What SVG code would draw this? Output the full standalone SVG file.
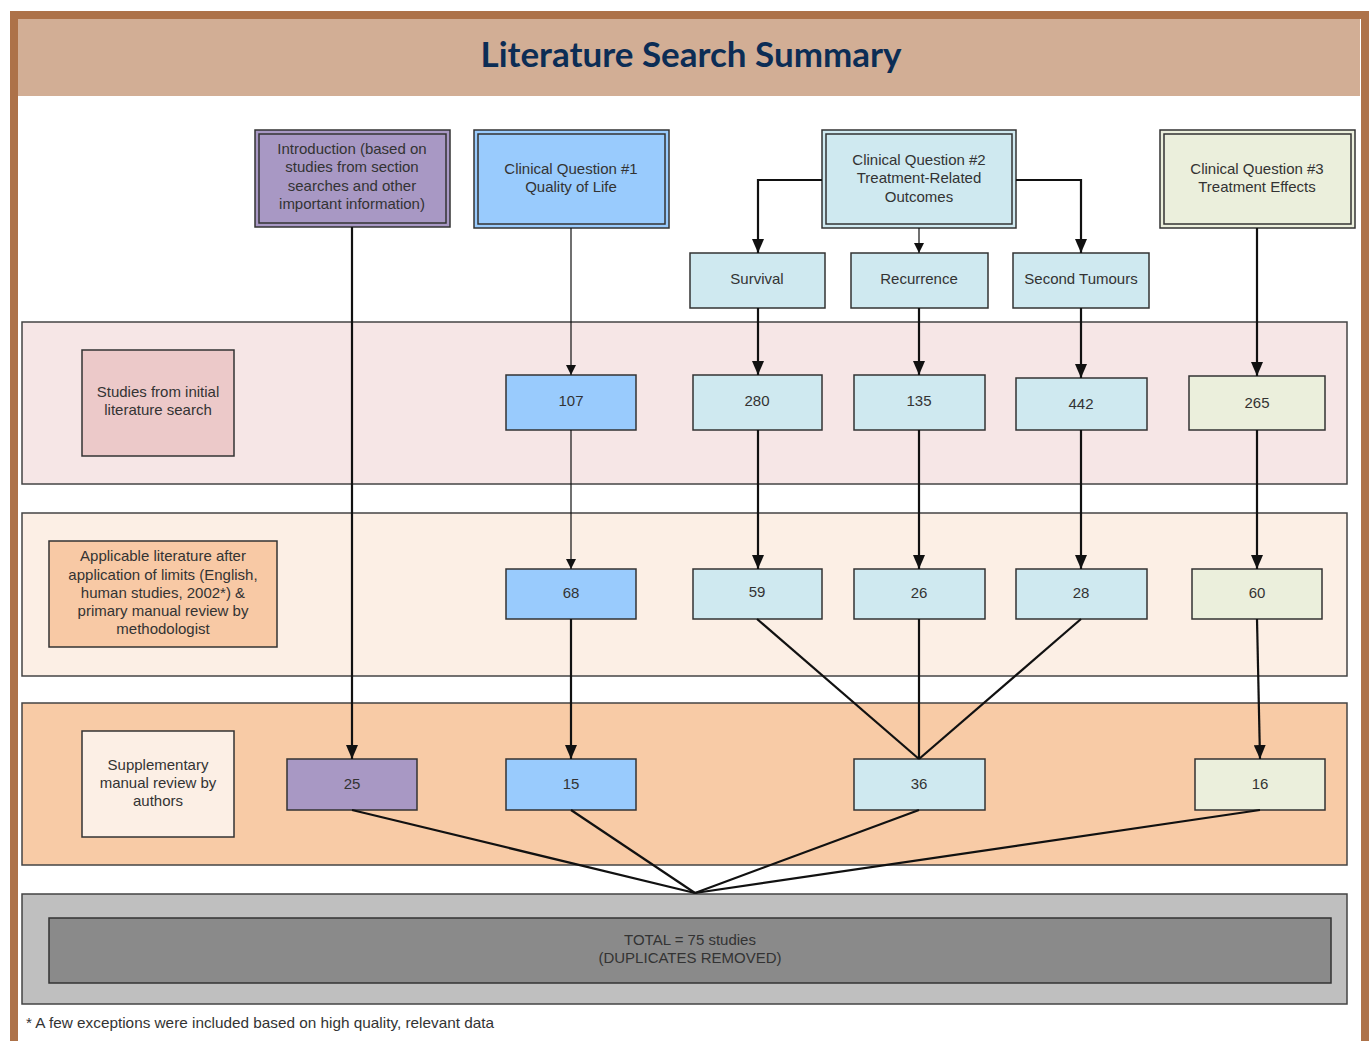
<svg xmlns="http://www.w3.org/2000/svg" width="1369" height="1041" viewBox="0 0 1369 1041">
<style>
text{font-family:"Liberation Sans",Arial,sans-serif;font-size:15px;fill:#333;text-anchor:middle}
.title{font-family:Lato,"Open Sans",sans-serif;font-weight:bold;font-size:34px;fill:#0c2d55}
.foot{font-size:15px;text-anchor:start}
.box{stroke:#333;stroke-width:1.5}
.band{stroke:#444;stroke-width:1.5}
.thick{fill:none;stroke:#111;stroke-width:2.2}
.thin{fill:none;stroke:#111;stroke-width:1.2}
.purple{fill:#a898c4}.blue{fill:#99cbfd}.cyan{fill:#cfe9f0}.green{fill:#ebefdc}
</style>
<defs>
<marker id="ah" viewBox="0 0 14 12" markerWidth="14" markerHeight="12" refX="14" refY="6" orient="auto" markerUnits="userSpaceOnUse"><path d="M0,0 L14,6 L0,12 z" fill="#111"/></marker>
<marker id="as" viewBox="0 0 10 10" markerWidth="10" markerHeight="10" refX="10" refY="5" orient="auto" markerUnits="userSpaceOnUse"><path d="M0,0 L10,5 L0,10 z" fill="#111"/></marker>
</defs>
<rect x="14" y="15" width="1351" height="1040" fill="#fff" stroke="#ad7249" stroke-width="8"/>
<rect x="18" y="19" width="1342" height="77" fill="#d2ae95"/>
<text class="title" x="691" y="67" textLength="421" lengthAdjust="spacingAndGlyphs">Literature Search Summary</text>

<g id="bands">
<rect id="band-initial" class="band" x="22" y="322" width="1325" height="162" fill="#f6e6e6"/>
<rect id="band-applicable" class="band" x="22" y="513" width="1325" height="163" fill="#fcefe5"/>
<rect id="band-supplementary" class="band" x="22" y="703" width="1325" height="162" fill="#f8cba6"/>
<rect id="band-total" class="band" x="22" y="894" width="1325" height="110" fill="#bfbfbf"/>
</g>

<g id="label-initial"><rect class="box" x="82" y="350" width="152" height="106" fill="#ecc9c9"/><text x="158" y="397">Studies from initial</text><text x="158" y="415">literature search</text></g>
<g id="label-applicable"><rect class="box" x="49" y="541" width="228" height="106" fill="#f8c9a5"/><text x="163" y="561">Applicable literature after</text><text x="163" y="580">application of limits (English,</text><text x="163" y="598">human studies, 2002*) &amp;</text><text x="163" y="616">primary manual review by</text><text x="163" y="634">methodologist</text></g>
<g id="label-supplementary"><rect class="box" x="82" y="731" width="152" height="106" fill="#fcefe5"/><text x="158" y="770">Supplementary</text><text x="158" y="788">manual review by</text><text x="158" y="806">authors</text></g>

<g id="intro"><rect class="box purple" x="255" y="130" width="195" height="97"/><rect class="box purple" x="259" y="134" width="187" height="89"/><text x="352" y="154">Introduction (based on</text><text x="352" y="172">studies from section</text><text x="352" y="191">searches and other</text><text x="352" y="209">important information)</text></g>
<g id="cq1"><rect class="box blue" x="474" y="130" width="195" height="98"/><rect class="box blue" x="478" y="134" width="187" height="90"/><text x="571" y="174">Clinical Question #1</text><text x="571" y="192">Quality of Life</text></g>
<g id="cq2"><rect class="box cyan" x="822" y="130" width="194" height="98"/><rect class="box cyan" x="826" y="134" width="186" height="90"/><text x="919" y="165">Clinical Question #2</text><text x="919" y="183">Treatment-Related</text><text x="919" y="202">Outcomes</text></g>
<g id="cq3"><rect class="box green" x="1160" y="130" width="195" height="98"/><rect class="box green" x="1164" y="134" width="187" height="90"/><text x="1257" y="174">Clinical Question #3</text><text x="1257" y="192">Treatment Effects</text></g>

<g id="survival"><rect class="box cyan" x="690" y="253" width="135" height="55"/><text x="757" y="284">Survival</text></g>
<g id="recurrence"><rect class="box cyan" x="851" y="253" width="137" height="55"/><text x="919" y="284">Recurrence</text></g>
<g id="second-tumours"><rect class="box cyan" x="1013" y="253" width="136" height="55"/><text x="1081" y="284">Second Tumours</text></g>

<g id="n107"><rect class="box blue" x="506" y="375" width="130" height="55"/><text x="571" y="406">107</text></g>
<g id="n280"><rect class="box cyan" x="693" y="375" width="129" height="55"/><text x="757" y="406">280</text></g>
<g id="n135"><rect class="box cyan" x="854" y="375" width="131" height="55"/><text x="919" y="406">135</text></g>
<g id="n442"><rect class="box cyan" x="1016" y="378" width="131" height="52"/><text x="1081" y="409">442</text></g>
<g id="n265"><rect class="box green" x="1189" y="376" width="136" height="54"/><text x="1257" y="408">265</text></g>

<g id="n68"><rect class="box blue" x="506" y="569" width="130" height="50"/><text x="571" y="598">68</text></g>
<g id="n59"><rect class="box cyan" x="693" y="569" width="129" height="50"/><text x="757" y="597">59</text></g>
<g id="n26"><rect class="box cyan" x="854" y="569" width="131" height="50"/><text x="919" y="598">26</text></g>
<g id="n28"><rect class="box cyan" x="1016" y="569" width="131" height="50"/><text x="1081" y="598">28</text></g>
<g id="n60"><rect class="box green" x="1192" y="569" width="130" height="50"/><text x="1257" y="598">60</text></g>

<g id="n25"><rect class="box purple" x="287" y="759" width="130" height="51"/><text x="352" y="789">25</text></g>
<g id="n15"><rect class="box blue" x="506" y="759" width="130" height="51"/><text x="571" y="789">15</text></g>
<g id="n36"><rect class="box cyan" x="854" y="759" width="131" height="51"/><text x="919" y="789">36</text></g>
<g id="n16"><rect class="box green" x="1195" y="759" width="130" height="51"/><text x="1260" y="789">16</text></g>

<g id="total"><rect class="box" x="49" y="918" width="1282" height="65" fill="#8a8a8a"/><text x="690" y="945">TOTAL = 75 studies</text><text x="690" y="963">(DUPLICATES REMOVED)</text></g>

<g id="connectors">
<path class="thick" d="M352,227 V759" marker-end="url(#ah)"/>
<path class="thin" d="M571,228 V375" marker-end="url(#as)"/>
<path class="thick" d="M822,180 H758 V253" marker-end="url(#ah)"/>
<path class="thin" d="M919,228 V253" marker-end="url(#as)"/>
<path class="thick" d="M1016,180 H1081 V253" marker-end="url(#ah)"/>
<path class="thick" d="M1257,228 V376" marker-end="url(#ah)"/>
<path class="thick" d="M758,308 V375" marker-end="url(#ah)"/>
<path class="thick" d="M919,308 V375" marker-end="url(#ah)"/>
<path class="thick" d="M1081,308 V378" marker-end="url(#ah)"/>
<path class="thin" d="M571,430 V569" marker-end="url(#as)"/>
<path class="thick" d="M758,430 V569" marker-end="url(#ah)"/>
<path class="thick" d="M919,430 V569" marker-end="url(#ah)"/>
<path class="thick" d="M1081,430 V569" marker-end="url(#ah)"/>
<path class="thick" d="M1257,430 V569" marker-end="url(#ah)"/>
<path class="thick" d="M571,619 V759" marker-end="url(#ah)"/>
<path class="thick" d="M1257,619 L1260,759" marker-end="url(#ah)"/>
<path class="thick" d="M757,619 L919,759"/>
<path class="thick" d="M919,619 V759"/>
<path class="thick" d="M1081,619 L919,759"/>
<path class="thick" d="M352,810 L695,893"/>
<path class="thick" d="M571,810 L695,893"/>
<path class="thick" d="M919,810 L695,893"/>
<path class="thick" d="M1260,810 L695,893"/>
</g>

<text class="foot" x="26" y="1028" textLength="468" lengthAdjust="spacingAndGlyphs">* A few exceptions were included based on high quality, relevant data</text>
</svg>
